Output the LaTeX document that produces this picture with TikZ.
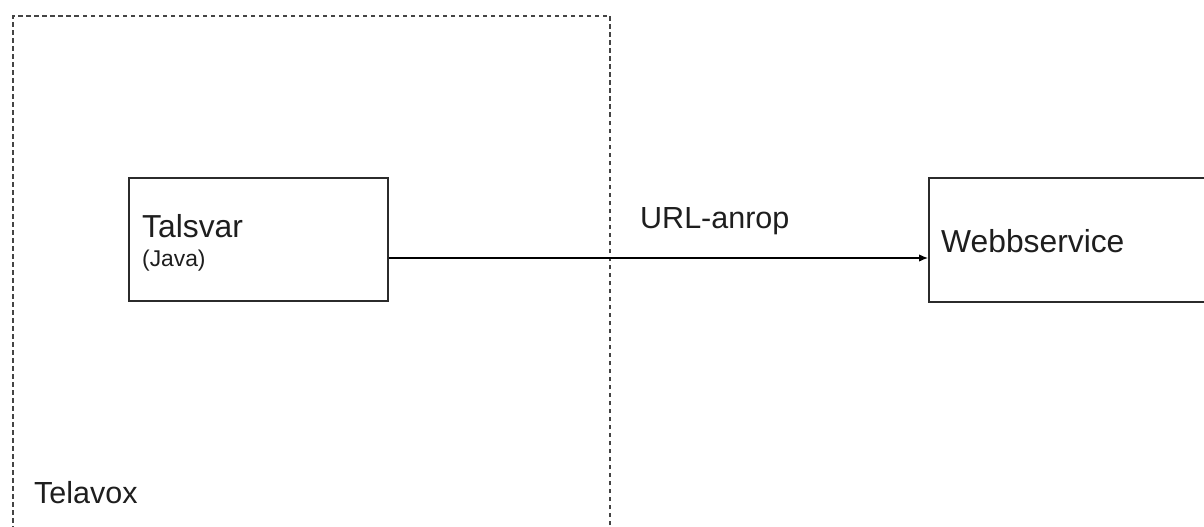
\documentclass[tikz,border=0pt]{standalone}
\usepackage{fontspec}
\setmainfont{Liberation Sans}
\usetikzlibrary{arrows.meta}
\definecolor{boxline}{HTML}{2B2B2B}
\definecolor{zoneline}{HTML}{444444}
\definecolor{labeltext}{HTML}{1E1E1E}
\tikzset{
  component/.style={draw=boxline, line width=1.8pt, fill=white, inner sep=0pt},
  zone/.style={draw=zoneline, line width=2pt, dash pattern=on 4.5pt off 3.5pt, inner sep=0pt},
  biglabel/.style={anchor=base west, inner sep=0pt, text=labeltext, font=\fontsize{30.5}{36}\selectfont},
  namelabel/.style={biglabel, font=\fontsize{31.8}{38}\selectfont},
  smalllabel/.style={anchor=base west, inner sep=0pt, text=labeltext, font=\fontsize{22.8}{27}\selectfont},
  call/.style={draw=black, line width=1.3pt, -{Latex[length=9pt,width=7.5pt]}}
}
\begin{document}
\begin{tikzpicture}[x=1pt, y=-1pt]
  \useasboundingbox (0,0) rectangle (1204,527);
  \clip (0,0) rectangle (1204,527);

  % Telavox zone (runs past the lower edge)
  \node[zone, minimum width=597pt, minimum height=560pt, anchor=north west] (telavox) at (12,15) {};
  \node[biglabel] (telavoxlabel) at (34,503) {Telavox};

  % Talsvar component
  \node[component, minimum width=259pt, minimum height=123pt, anchor=north west] (talsvar) at (128,177) {};
  \node[namelabel] (talsvarname) at (142,237) {Talsvar};
  \node[smalllabel] (talsvarlang) at (142,266) {(Java)};

  % Webbservice component (runs past the right edge)
  \node[component, minimum width=320pt, minimum height=124pt, anchor=north west] (webb) at (928,177) {};
  \node[namelabel] (webbname) at (941,252) {Webbservice};

  % URL call
  \coordinate (callrow) at (0,258);
  \draw[call] (talsvar.east |- callrow) -- (webb.west |- callrow);
  \node[biglabel] (urllabel) at (640,228) {URL-anrop};
\end{tikzpicture}
\end{document}
